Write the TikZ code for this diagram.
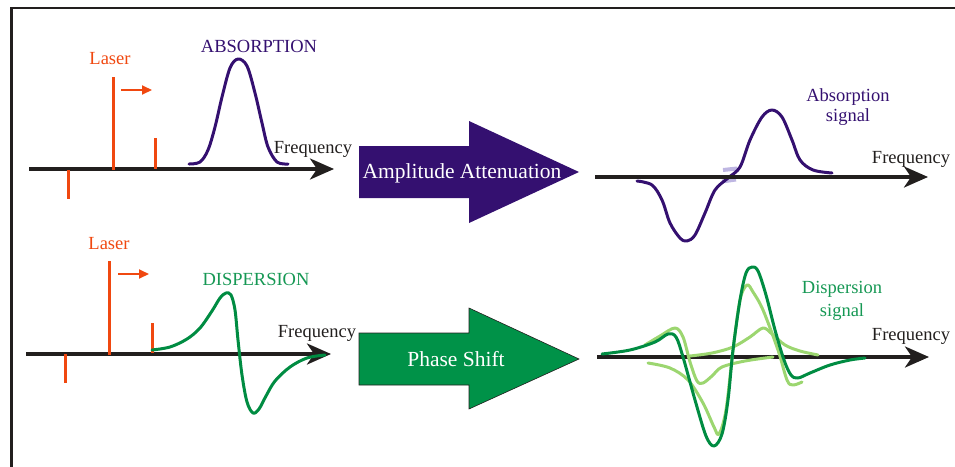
\documentclass[tikz,border=0pt]{standalone}
\usepackage{fontspec}
\setmainfont{Liberation Serif}
\usetikzlibrary{arrows.meta}
\definecolor{purp}{RGB}{52,16,112}
\definecolor{lav}{RGB}{190,182,226}
\definecolor{laserc}{RGB}{240,72,16}
\definecolor{dgreen}{RGB}{0,140,66}
\definecolor{tgreen}{RGB}{22,152,84}
\definecolor{lgreen}{RGB}{156,214,112}
\definecolor{axisc}{RGB}{34,31,30}
\definecolor{agreen}{RGB}{0,146,72}
\begin{document}
\begin{tikzpicture}[x=1pt,y=-1pt,
  axis/.style={line width=3.5pt, draw=axisc, -{Stealth[length=24pt,width=21pt,inset=7pt]}},
  laserline/.style={line width=3pt, draw=laserc},
  shiftarrow/.style={line width=2pt, draw=laserc, -{Triangle[length=10pt,width=9pt]}},
  curve/.style={line width=3pt, line join=round, line cap=round},
  lbl/.style={inner sep=0pt, anchor=base, font=\fontsize{18.5}{20}\selectfont},
  big/.style={inner sep=0pt, anchor=base, text=white, font=\fontsize{21.5}{24}\selectfont},
]
\path[use as bounding box] (0,0) rectangle (955,466);
% frame
\draw[line width=2.5pt, axisc] (11.5,470) -- (11.5,8) -- (960,8);

% ---------- top left ----------
\coordinate (a1s) at (29,169); \coordinate (a1e) at (334,169);
\draw[axis] (a1s) -- (a1e);
\draw[laserline] (113,77) -- (113,170);
\draw[laserline] (155,138) -- (155,169);
\draw[laserline] (68,170) -- (68,199);
\coordinate (s1s) at (121,90); \coordinate (s1e) at (152,90);
\draw[shiftarrow] (s1s) -- (s1e);
\node[lbl, text=laserc] (laser1) at (110,64) {Laser};
\node[lbl, text=purp] (absorption) at (259,52.5) {ABSORPTION};
\node[lbl, text=axisc] (freq1) at (313,153) {Frequency};
\draw[curve, purp] plot[smooth, tension=0.55] coordinates {(189,164) (200,162) (208,150) (215,127) (222,97) (230,68) (238,59) (247,66) (255,93) (262,123) (268,147) (277,162) (288,164)};

% ---------- purple block arrow ----------
\fill[purp] (359,146) -- (469,146) -- (469,121) -- (579,172) -- (469,223) -- (469,198) -- (359,198) -- cycle;
\node[big] (amp) at (462,178.3) {Amplitude Attenuation};

% ---------- top right ----------
\draw[line width=4pt, lav] (723,170) -- (737,168.5);
\draw[line width=4pt, lav] (722,181.5) -- (736,179.5);
\draw[curve, purp] plot[smooth, tension=0.55] coordinates {(637,181) (652,185) (662,200) (670,223) (680,238) (687,241) (695,235) (705,213) (715,190) (728,178) (740,167) (750,140) (762,117) (772,110) (782,117) (792,140) (800,160) (813,170) (832,173)};
\coordinate (a2s) at (595,177); \coordinate (a2e) at (928,177);
\draw[axis] (a2s) -- (a2e);
\node[lbl, text=axisc] (freq2) at (911,163) {Frequency};
\node[lbl, text=purp] (abs1) at (848,101.7) {Absorption};
\node[lbl, text=purp] (abs2) at (848,121.7) {signal};

% ---------- bottom left ----------
\coordinate (a3s) at (26,354); \coordinate (a3e) at (331,354);
\draw[axis] (a3s) -- (a3e);
\draw[laserline] (109,261) -- (109,355);
\draw[laserline] (152,323) -- (152,353);
\draw[laserline] (65,354) -- (65,383);
\coordinate (s2s) at (118,274); \coordinate (s2e) at (149,274);
\draw[shiftarrow] (s2s) -- (s2e);
\node[lbl, text=laserc] (laser2) at (109,249.3) {Laser};
\node[lbl, text=tgreen] (dispersion) at (256,285) {DISPERSION};
\node[lbl, text=axisc] (freq3) at (317,337) {Frequency};
\draw[curve, dgreen] plot[smooth, tension=0.55] coordinates {(152,350) (170,347) (187,339) (200,328) (212,311) (220,298) (226,293) (231,295) (235,310) (238,340) (242,375) (247,402) (253,413) (259,409) (266,396) (275,381) (290,367) (307,358) (325,355)};

% ---------- green block arrow ----------
\filldraw[fill=agreen, draw=axisc, line width=0.6pt] (359,333) -- (469,333) -- (469,308) -- (579,359) -- (469,409) -- (469,385) -- (359,385) -- cycle;
\node[big] (phase) at (456,366) {Phase Shift};

% ---------- bottom right ----------
\coordinate (a4s) at (597,357); \coordinate (a4e) at (929,357);
\draw[axis] (a4s) -- (a4e);
\draw[curve, lgreen] plot[smooth, tension=0.55] coordinates {(645,345) (660,336) (675,328) (683,337) (690,362) (697,381) (703,383) (712,376) (722,367) (745,361) (773,357)};
\draw[curve, lgreen] plot[smooth, tension=0.55] coordinates {(690,356) (712,353) (733,347) (750,337) (763,328) (772,334) (785,345) (800,351) (818,355)};
\draw[curve, lgreen] plot[smooth, tension=0.55] coordinates {(648,363) (670,368) (688,380) (703,403) (714,427) (719,434) (726,410) (733,350) (740,300) (747,285) (753,292) (763,310) (778,350) (787,380) (793,385) (802,382)};
\draw[curve, dgreen] plot[smooth, tension=0.55] coordinates {(602,354) (630,350) (655,342) (668,334) (676,337) (683,357) (695,400) (706,436) (714,446) (722,434) (728,400) (733,350) (740,300) (746,273) (752,267) (758,271) (766,295) (775,330) (784,360) (791,375) (798,378) (810,373) (830,365) (850,360) (865,358)};
\node[lbl, text=axisc] (freq4) at (911,340) {Frequency};
\node[lbl, text=tgreen] (disp1) at (842,293) {Dispersion};
\node[lbl, text=tgreen] (disp2) at (842,316) {signal};
\end{tikzpicture}
\end{document}
